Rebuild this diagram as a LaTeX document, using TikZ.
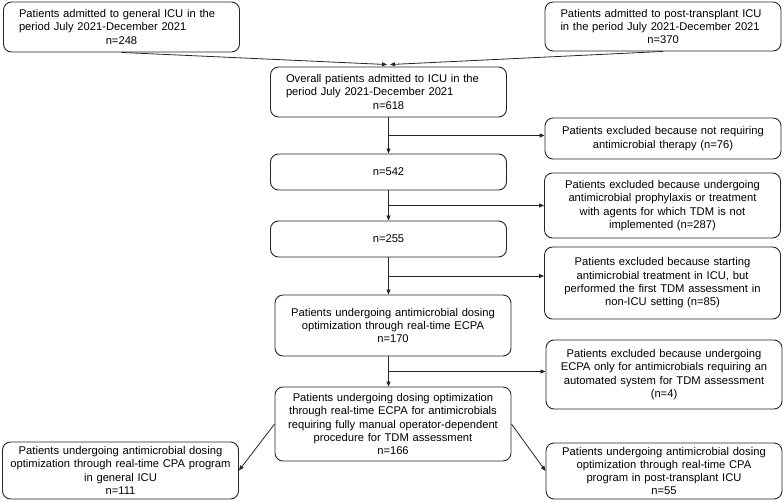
\documentclass[tikz,border=0pt]{standalone}
\usepackage{fontspec}
\setmainfont{Liberation Sans}
\usetikzlibrary{arrows.meta, positioning, calc}
\newcommand{\jline}[1]{\makebox[205pt][s]{#1}}
\newcommand{\nline}[1]{\makebox[205pt][c]{#1}}

\begin{document}
\begin{tikzpicture}[x=1pt,y=-1pt,
  box/.style={rectangle,draw=black!85,line width=0.9pt,rounded corners=8pt,align=center,font=\fontsize{11.2}{13.3}\selectfont,text width=226pt,minimum width=236pt,inner xsep=5pt,inner ysep=2pt},
  top/.style={box,align=left,text width=205pt},
  flow/.style={-{Triangle[length=5pt,width=4pt]},line width=0.8pt,black!85}
]
  \useasboundingbox (0,0) rectangle (784,502);
  \node[top,minimum height=50pt](gen) at (121.5,27) {
    \jline{Patients admitted to general ICU in the}\\
    period July 2021-December 2021\\
    \nline{n=248}
  };
  \node[top,minimum height=49pt](tx) at (663,26.5) {
    \jline{Patients admitted to post-transplant ICU}\\
    in the period July 2021-December 2021\\
    \nline{n=370}
  };
  \node[top,minimum height=50pt](all) at (388.5,92) {
    \jline{Overall patients admitted to ICU in the}\\
    period July 2021-December 2021\\
    \nline{n=618}
  };
  \node[box,minimum height=41pt](ex1) at (663,138.5) {
    Patients excluded because not requiring\\
    antimicrobial therapy (n=76)
  };
  \node[box,minimum height=36pt](r542) at (388.5,172) {n=542};
  \node[box,minimum height=65pt](ex2) at (662.5,205.5) {
    Patients excluded because undergoing\\
    antimicrobial prophylaxis or treatment\\
    with agents for which TDM is not\\
    implemented (n=287)
  };
  \node[box,minimum height=36pt](r255) at (388.5,239) {n=255};
  \node[box,minimum height=72pt](ex3) at (662.5,283) {
    Patients excluded because starting\\
    antimicrobial treatment in ICU, but\\
    performed the first TDM assessment in\\
    non-ICU setting (n=85)
  };
  \node[box,minimum height=61pt](ecpa) at (393,325.5) {
    Patients undergoing antimicrobial dosing\\
    optimization through real-time ECPA\\
    n=170
  };
  \node[box,minimum height=69pt](ex4) at (664,374.5) {
    Patients excluded because undergoing\\
    ECPA only for antimicrobials requiring an\\
    automated system for TDM assessment\\
    (n=4)
  };
  \node[box,minimum height=74pt](man) at (393,424) {
    Patients undergoing dosing optimization\\
    through real-time ECPA for antimicrobials\\
    requiring fully manual operator-dependent\\
    procedure for TDM assessment\\
    n=166
  };
  \node[box,minimum height=57pt](outg) at (120.5,470.5) {
    Patients undergoing antimicrobial dosing\\
    optimization through real-time CPA program\\
    in general ICU\\
    n=111
  };
  \node[box,minimum height=56pt,minimum width=232pt](outt) at (664,471) {
    Patients undergoing antimicrobial dosing\\
    optimization through real-time CPA\\
    program in post-transplant ICU\\
    n=55
  };
  \coordinate (inl) at ($(all.north)+(-1.5,-2)$);
  \coordinate (inr) at ($(all.north)+(1.5,-2)$);
  \coordinate (b1) at ($(all.south)!0.5!(r542.north)$);
  \coordinate (b2) at ($(r542.south)!0.5!(r255.north)$);
  \coordinate (g1) at (r255.south |- ecpa.north);
  \coordinate (b3) at ($(r255.south)!0.5!(g1)$);
  \coordinate (g2) at (r255.south |- ecpa.south);
  \coordinate (h1) at (r255.south |- man.north);
  \coordinate (b4) at ($(g2)!0.5!(h1)$);
  \draw[flow](gen.south)--(inl);
  \draw[flow](tx.south)--(inr);
  \draw[flow](all.south)--(r542.north);
  \draw[flow](b1)--(b1 -| ex1.west);
  \draw[flow](r542.south)--(r255.north);
  \draw[flow](b2)--(b2 -| ex2.west);
  \draw[flow](r255.south)--(g1);
  \draw[flow](b3)--(b3 -| ex3.west);
  \draw[flow](g2)--(h1);
  \draw[flow](b4)--(b4 -| ex4.west);
  \draw[flow](man.west)--(outg.east);
  \draw[flow](man.east)--(outt.west);
\end{tikzpicture}
\end{document}
